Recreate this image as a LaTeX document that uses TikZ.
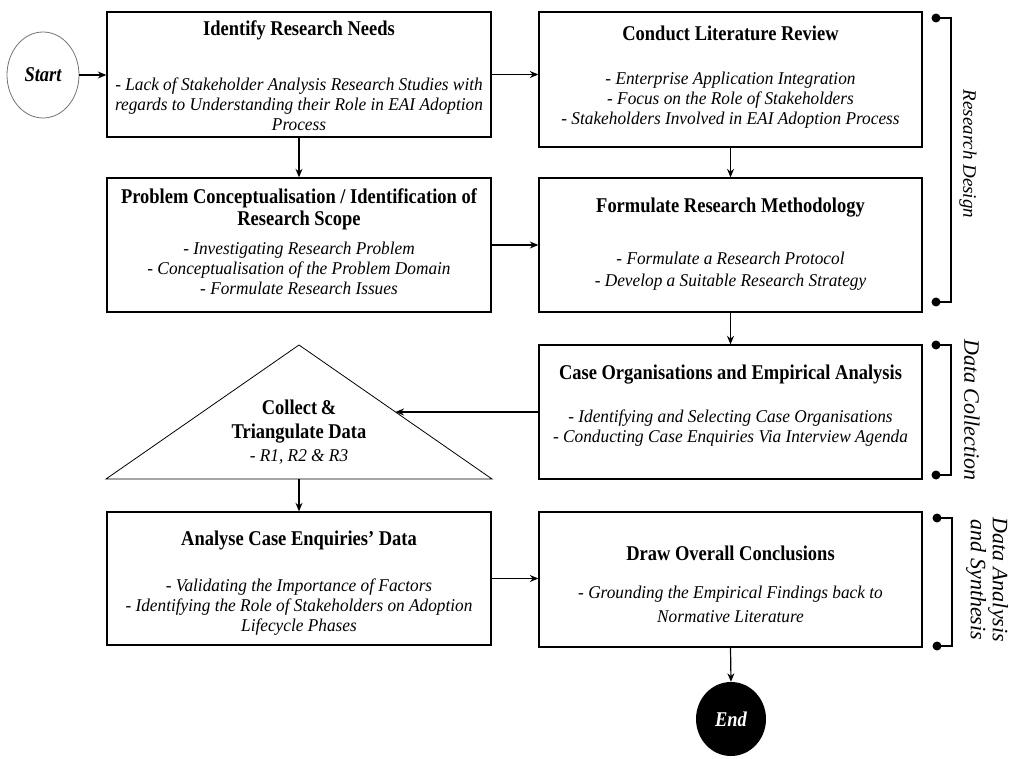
\documentclass[tikz,border=0pt]{standalone}
\usepackage{fontspec}
\setmainfont{Liberation Serif}
\newfontfamily\headserif[FakeStretch=0.88]{Liberation Serif}
\newfontfamily\bodyserif[FakeStretch=0.96]{Liberation Serif}
\usetikzlibrary{arrows.meta,shapes.geometric,calc}

\tikzset{
  stage/.style={draw=black, line width=1.3pt, inner sep=0pt},
  head/.style={font=\headserif\bfseries\fontsize{21}{24}\selectfont, align=center, inner sep=0pt},
  body/.style={font=\bodyserif\itshape\fontsize{18}{20}\selectfont, align=center, inner sep=0pt},
  flow/.style={line width=1.2pt, -{Stealth[length=8.5pt,width=7pt]}},
  phase/.style={line width=1.8pt},
  phasedot/.style={circle, fill=black, inner sep=0pt, minimum size=9pt},
  phaselabel/.style={font=\itshape\fontsize{19}{22}\selectfont, rotate=-90, align=center, inner sep=0pt},
}

\begin{document}
\begin{tikzpicture}[x=1pt, y=-1pt]
\useasboundingbox (0,0) rectangle (1009,759);

% terminal nodes
\node[ellipse, draw=black!55, line width=0.8pt, minimum width=72pt, minimum height=86pt, inner sep=0pt,
      font=\headserif\bfseries\itshape\fontsize{21}{22}\selectfont] (start) at (43,75) {Start};
\node[ellipse, fill=black, minimum width=70pt, minimum height=74pt, inner sep=0pt, text=white,
      font=\headserif\bfseries\itshape\fontsize{21}{22}\selectfont] (end) at (731,719) {End};

% stage boxes
\node[stage, minimum width=384pt, minimum height=125pt] (needs)   at (299,74.5) {};
\node[stage, minimum width=383pt, minimum height=135pt] (review)  at (730.5,79.5) {};
\node[stage, minimum width=384pt, minimum height=134pt] (scope)   at (299,245) {};
\node[stage, minimum width=383pt, minimum height=134pt] (method)  at (730.5,245) {};
\node[stage, minimum width=383pt, minimum height=134pt] (cases)   at (730.5,412) {};
\node[stage, minimum width=384pt, minimum height=133pt] (analyse) at (299,578.5) {};
\node[stage, minimum width=383pt, minimum height=135pt] (concl)   at (730.5,579.5) {};

% triangulation step
\coordinate (triTop) at (299,345);
\coordinate (triL) at (106,479);
\coordinate (triR) at (492,479);
\draw[line width=0.8pt] (triTop) -- (triR) -- (triL) -- cycle;
\coordinate (triIn) at ($(triTop)!0.5!(triR)$);
\coordinate (triBase) at ($(triL)!0.5!(triR)$);

% box texts
\node[head] (needsH) at (299,30) {Identify Research Needs};
\node[body] (needsB) at (299,104) {- Lack of Stakeholder Analysis Research Studies with\\regards to Understanding their Role in EAI Adoption\\Process};

\node[head] (reviewH) at (730.5,33) {Conduct Literature Review};
\node[body] (reviewB) at (730.5,100) {- Enterprise Application Integration\\- Focus on the Role of Stakeholders\\- Stakeholders Involved in EAI Adoption Process};

\node[head] (scopeH) at (299,209) {Problem Conceptualisation / Identification of\\[-2pt]Research Scope};
\node[body] (scopeB) at (299,268) {- Investigating Research Problem\\- Conceptualisation of the Problem Domain\\- Formulate Research Issues};

\node[head] (methodH) at (730.5,208) {Formulate Research Methodology};
\node[body] (methodB) at (730.5,271.5) {- Formulate a Research Protocol\\[2pt]- Develop a Suitable Research Strategy};

\node[head] (casesH) at (730.5,375) {Case Organisations and Empirical Analysis};
\node[body] (casesB) at (730.5,428) {- Identifying and Selecting Case Organisations\\- Conducting Case Enquiries Via Interview Agenda};

\node[head] (triH) at (299,422) {Collect\,\&\\Triangulate Data};
\node[body] (triB) at (299,457) {- R1, R2 \& R3};

\node[head] (analyseH) at (299,540) {Analyse Case Enquiries’ Data};
\node[body] (analyseB) at (299,607) {- Validating the Importance of Factors\\- Identifying the Role of Stakeholders on Adoption\\Lifecycle Phases};

\node[head] (conclH) at (730.5,553) {Draw Overall Conclusions};
\node[body] (conclB) at (730.5,604.5) {- Grounding the Empirical Findings back to\\[4pt]Normative Literature};

% flow connectors
\draw[flow] (start.east) -- (start.east -| needs.west);
\draw[flow] (needs.east) -- (needs.east -| review.west);
\draw[flow] (needs.south) -- (scope.north);
\draw[flow] (review.south) -- (method.north);
\draw[flow] (scope.east) -- (method.west);
\draw[flow] (method.south) -- (cases.north);
\draw[flow] (cases.west) -- (triIn);
\draw[flow] (triBase) -- (analyse.north);
\draw[flow] (analyse.east) -- (analyse.east -| concl.west);
\draw[flow] (concl.south) -- (end.north);

% phase brackets
\coordinate (rdT) at (936,18);   \coordinate (rdB) at (936,302);
\coordinate (dcT) at (936,345);  \coordinate (dcB) at (936,475);
\coordinate (daT) at (937,518);  \coordinate (daB) at (937,646);
\draw[phase] (rdT) -- ++(15,0) |- (rdB);
\draw[phase] (dcT) -- ++(15,0) |- (dcB);
\draw[phase] (daT) -- ++(15,0) |- (daB);
\foreach \p in {rdT,rdB,dcT,dcB,daT,daB} \node[phasedot] (dot-\p) at (\p) {};

\node[phaselabel] (rdL) at (968,154) {Research Design};
\node[phaselabel, font=\itshape\fontsize{22}{22}\selectfont] (dcL) at (972,410) {Data Collection};
\node[phaselabel, font=\itshape\fontsize{22}{22}\selectfont] (daL) at (987,580) {Data Analysis\\and Synthesis};
\end{tikzpicture}
\end{document}
